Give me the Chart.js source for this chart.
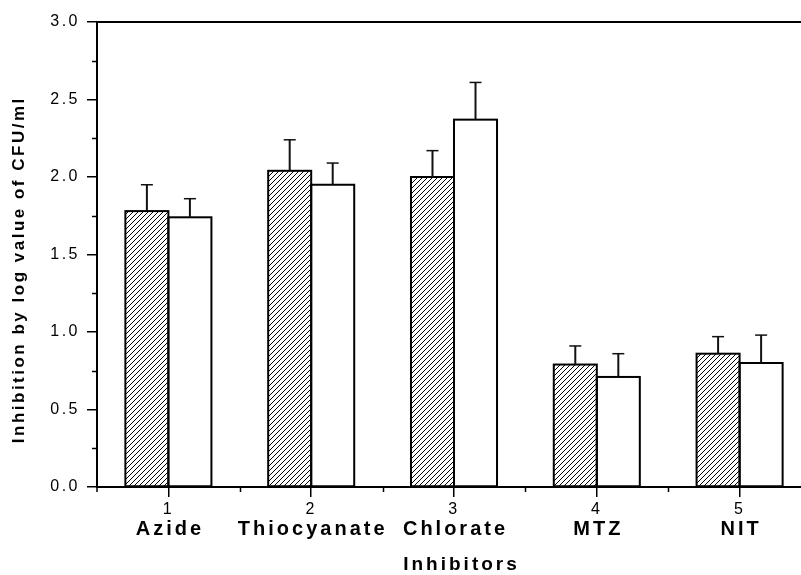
<!DOCTYPE html>
<html>
<head>
<meta charset="utf-8">
<script src="https://cdn.jsdelivr.net/npm/chart.js@4.4.1/dist/chart.umd.min.js"></script>
<style>
  html, body { margin: 0; padding: 0; background: #fff; overflow: hidden; }
  #wrap { width: 830px; height: 575px; }
</style>
</head>
<body>
<div id="wrap"><canvas id="chart" width="830" height="575"></canvas></div>
<script>
// inhibitor groups (numbered on the axis, named underneath)
const categories = ['1', '2', '3', '4', '5'];
const inhibitorNames = ['Azide', 'Thiocyanate', 'Chlorate', 'MTZ', 'NIT'];

// hatched series and its upper error
const hatchedValues = [1.78, 2.04, 2.00, 0.79, 0.86];
const hatchedErrors = [0.17, 0.20, 0.17, 0.12, 0.11];

// open (white) series and its upper error
const openValues = [1.74, 1.95, 2.37, 0.71, 0.80];
const openErrors = [0.12, 0.14, 0.24, 0.15, 0.18];

const Y_MIN = 0;
const Y_MAX = 3;
const Y_STEP = 0.5;

const FONT = "'Liberation Sans', Arial, Helvetica, sans-serif";

const canvas = document.getElementById('chart');
const mainCtx = canvas.getContext('2d');

function makeHatch() {
    const size = 5;
    const tile = document.createElement('canvas');
    tile.width = size;
    tile.height = size;
    const g = tile.getContext('2d');
    g.fillStyle = '#ffffff';
    g.fillRect(0, 0, size, size);
    g.strokeStyle = '#000000';
    g.lineWidth = 1;
    g.beginPath();
    g.moveTo(0, size);
    g.lineTo(size, 0);
    g.moveTo(-1, 1);
    g.lineTo(1, -1);
    g.moveTo(size - 1, size + 1);
    g.lineTo(size + 1, size - 1);
    g.stroke();
    return mainCtx.createPattern(tile, 'repeat');
}

function drawSpaced(ctx, text, x, y, spacing) {
    ctx.letterSpacing = spacing + 'px';
    // trailing spacing would push centred text left, so nudge it back
    ctx.fillText(text, x + spacing / 2, y);
    ctx.letterSpacing = '0px';
}

// wide tracking on the tick numbers, like the rest of the lettering
const tickSpacing = {
    id: 'tickSpacing',
    beforeDraw(chart) {
        chart.ctx.letterSpacing = '2.5px';
    },
    beforeDatasetsDraw(chart) {
        chart.ctx.letterSpacing = '0px';
    },
};

// outlines (centred on the bar edges so neighbours share one line) and upper error bars
const barOutlines = {
    id: 'barOutlines',
    afterDatasetsDraw(chart) {
        const { ctx } = chart;
        const y = chart.scales.y;
        const errs = [hatchedErrors, openErrors];
        ctx.save();
        chart.data.datasets.forEach((ds, di) => {
            chart.getDatasetMeta(di).data.forEach((bar) => {
                const { x, y: top, base, width } = bar.getProps(['x', 'y', 'base', 'width'], true);
                ctx.strokeStyle = '#000000';
                ctx.lineWidth = 2;
                ctx.strokeRect(x - width / 2, top, width, base - top);
            });
        });
        ctx.strokeStyle = '#111111';
        chart.data.datasets.forEach((ds, di) => {
            chart.getDatasetMeta(di).data.forEach((bar, i) => {
                const errTop = y.getPixelForValue(ds.data[i] + errs[di][i]);
                ctx.lineWidth = 2;
                ctx.beginPath();
                ctx.moveTo(bar.x, bar.y);
                ctx.lineTo(bar.x, errTop);
                ctx.stroke();
                ctx.lineWidth = 1.5;
                ctx.beginPath();
                ctx.moveTo(bar.x - 6, errTop);
                ctx.lineTo(bar.x + 6, errTop);
                ctx.stroke();
            });
        });
        ctx.restore();
    },
};

const frame = {
    id: 'frame',
    afterDraw(chart) {
        const { ctx, chartArea } = chart;
        const { left, right, top, bottom } = chartArea;
        const x = chart.scales.x;
        const y = chart.scales.y;
        ctx.save();
        ctx.strokeStyle = '#000000';

        // top border
        ctx.lineWidth = 2;
        ctx.beginPath();
        ctx.moveTo(left - 1, top);
        ctx.lineTo(right + 1, top);
        ctx.stroke();

        // minor ticks
        ctx.lineWidth = 1.5;
        ctx.beginPath();
        for (let v = Y_MIN + Y_STEP / 2; v < Y_MAX; v += Y_STEP) {
            const py = Math.round(y.getPixelForValue(v)) + 0.5;
            ctx.moveTo(left - 5, py);
            ctx.lineTo(left, py);
        }
        for (let i = 0; i <= categories.length; i++) {
            const px = i === 0 ? left : Math.round(x.getPixelForValue(i - 0.5)) + 0.5;
            ctx.moveTo(px, bottom);
            ctx.lineTo(px, bottom + 5);
        }
        ctx.stroke();

        ctx.fillStyle = '#000000';
        ctx.textAlign = 'center';
        ctx.textBaseline = 'middle';

        // inhibitor names under the numbers
        ctx.font = 'bold 20px ' + FONT;
        inhibitorNames.forEach((name, i) => {
            drawSpaced(ctx, name, x.getPixelForValue(i), 529, 3);
        });

        // axis titles
        ctx.font = 'bold 19px ' + FONT;
        drawSpaced(ctx, 'Inhibitors', (left + right) / 2 + 6, 565, 3);

        ctx.translate(19, 271);
        ctx.rotate(-Math.PI / 2);
        ctx.font = 'bold 17px ' + FONT;
        drawSpaced(ctx, 'Inhibition by log value of CFU/ml', 0, 0, 2.5);
        ctx.restore();
    },
};

const hatch = makeHatch();

new Chart(canvas, {
    type: 'bar',
    data: {
        labels: categories,
        datasets: [
            {
                label: 'hatched',
                data: hatchedValues,
                backgroundColor: hatch,
                borderWidth: 0,
            },
            {
                label: 'open',
                data: openValues,
                backgroundColor: '#ffffff',
                borderWidth: 0,
            },
        ],
    },
    options: {
        responsive: false,
        animation: false,
        categoryPercentage: 0.6025,
        barPercentage: 1,
        layout: { padding: { left: 0, right: 19, top: 22, bottom: 0 } },
        plugins: {
            legend: { display: false },
            tooltip: { enabled: false },
        },
        scales: {
            x: {
                afterFit: (scale) => { scale.height = 88; },
                grid: {
                    offset: false,
                    drawOnChartArea: false,
                    tickLength: 10,
                    color: '#000000',
                    lineWidth: 1.5,
                },
                border: { color: '#000000', width: 2 },
                ticks: {
                    color: '#000000',
                    padding: 3,
                    font: { family: FONT, size: 16 },
                },
            },
            y: {
                min: Y_MIN,
                max: Y_MAX,
                afterFit: (scale) => { scale.width = 97; },
                grid: {
                    drawOnChartArea: false,
                    tickLength: 10,
                    color: '#000000',
                    lineWidth: 1.5,
                },
                border: { color: '#000000', width: 2 },
                ticks: {
                    stepSize: Y_STEP,
                    color: '#000000',
                    padding: 7,
                    font: { family: FONT, size: 16 },
                    callback: (v) => v.toFixed(1),
                },
            },
        },
    },
    plugins: [tickSpacing, barOutlines, frame],
});
</script>
</body>
</html>
